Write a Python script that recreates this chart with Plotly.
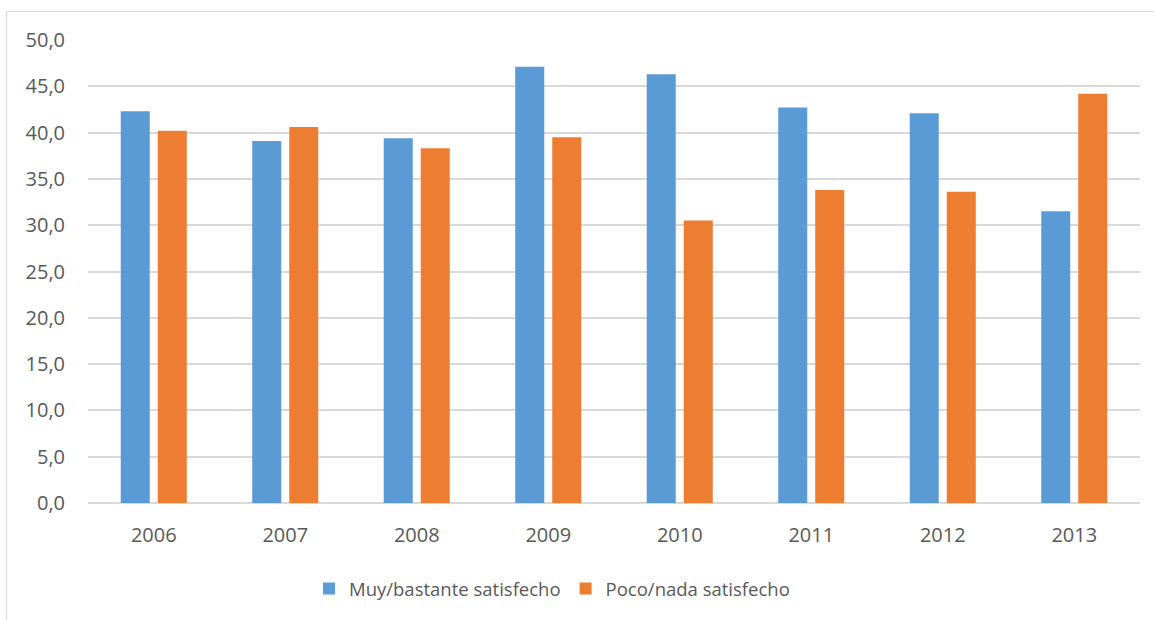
import plotly.graph_objects as go

years = ["2006", "2007", "2008", "2009", "2010", "2011", "2012", "2013"]
muy_bastante = [42.3, 39.1, 39.4, 47.1, 46.3, 42.7, 42.1, 31.5]
poco_nada = [40.2, 40.6, 38.3, 39.5, 30.5, 33.8, 33.6, 44.2]
series_names = ["Muy/bastante satisfecho", "Poco/nada satisfecho"]
y_ticks = [0, 5, 10, 15, 20, 25, 30, 35, 40, 45, 50]

W, H = 1154, 620
ML, MR, MT, MB = 88, 14, 40, 117
PW = W - ML - MR
PH = H - MT - MB

font_family = "Open Sans, Liberation Sans, sans-serif"
text_color = "#595959"
grid_color = "#D9D9D9"
fs_tick = 20
fs_leg = 18.5

fig = go.Figure()
fig.add_trace(go.Bar(x=years, y=muy_bastante, name=series_names[0],
                     marker=dict(color="#5B9BD5", line=dict(width=0))))
fig.add_trace(go.Bar(x=years, y=poco_nada, name=series_names[1],
                     marker=dict(color="#ED7D31", line=dict(width=0))))

def px_x(p):
    return (p - ML) / PW

def px_y(p):
    return (MT + PH - p) / PH

fig.update_layout(
    width=W, height=H,
    margin=dict(l=ML, r=MR, t=MT, b=MB, autoexpand=False),
    paper_bgcolor="white", plot_bgcolor="white",
    separators=",.",
    barmode="group", bargap=0.437, bargroupgap=0.216,
    font=dict(family=font_family, size=fs_tick, color=text_color),
    showlegend=True,
    legend=dict(orientation="h", x=px_x(552), xanchor="center", y=px_y(589), yanchor="middle",
                font=dict(size=fs_leg, color=text_color), itemwidth=30, traceorder="normal"),
    xaxis=dict(type="category", showgrid=False, showline=False, ticks="",
               tickfont=dict(size=fs_tick, color=text_color), ticklabelstandoff=18),
    yaxis=dict(range=[0, 50], tickvals=y_ticks, tickformat=".1f",
               showgrid=True, gridcolor=grid_color, gridwidth=2,
               zeroline=True, zerolinecolor=grid_color, zerolinewidth=2,
               showline=False, ticks="", ticklabelstandoff=22,
               tickfont=dict(size=fs_tick, color=text_color)),
    shapes=[dict(type="rect", xref="paper", yref="paper",
                 x0=px_x(6.5), x1=px_x(1170), y0=px_y(640), y1=px_y(11.5),
                 line=dict(color=grid_color, width=1), fillcolor="rgba(0,0,0,0)",
                 layer="below")],
)

fig.write_html("out.html")
